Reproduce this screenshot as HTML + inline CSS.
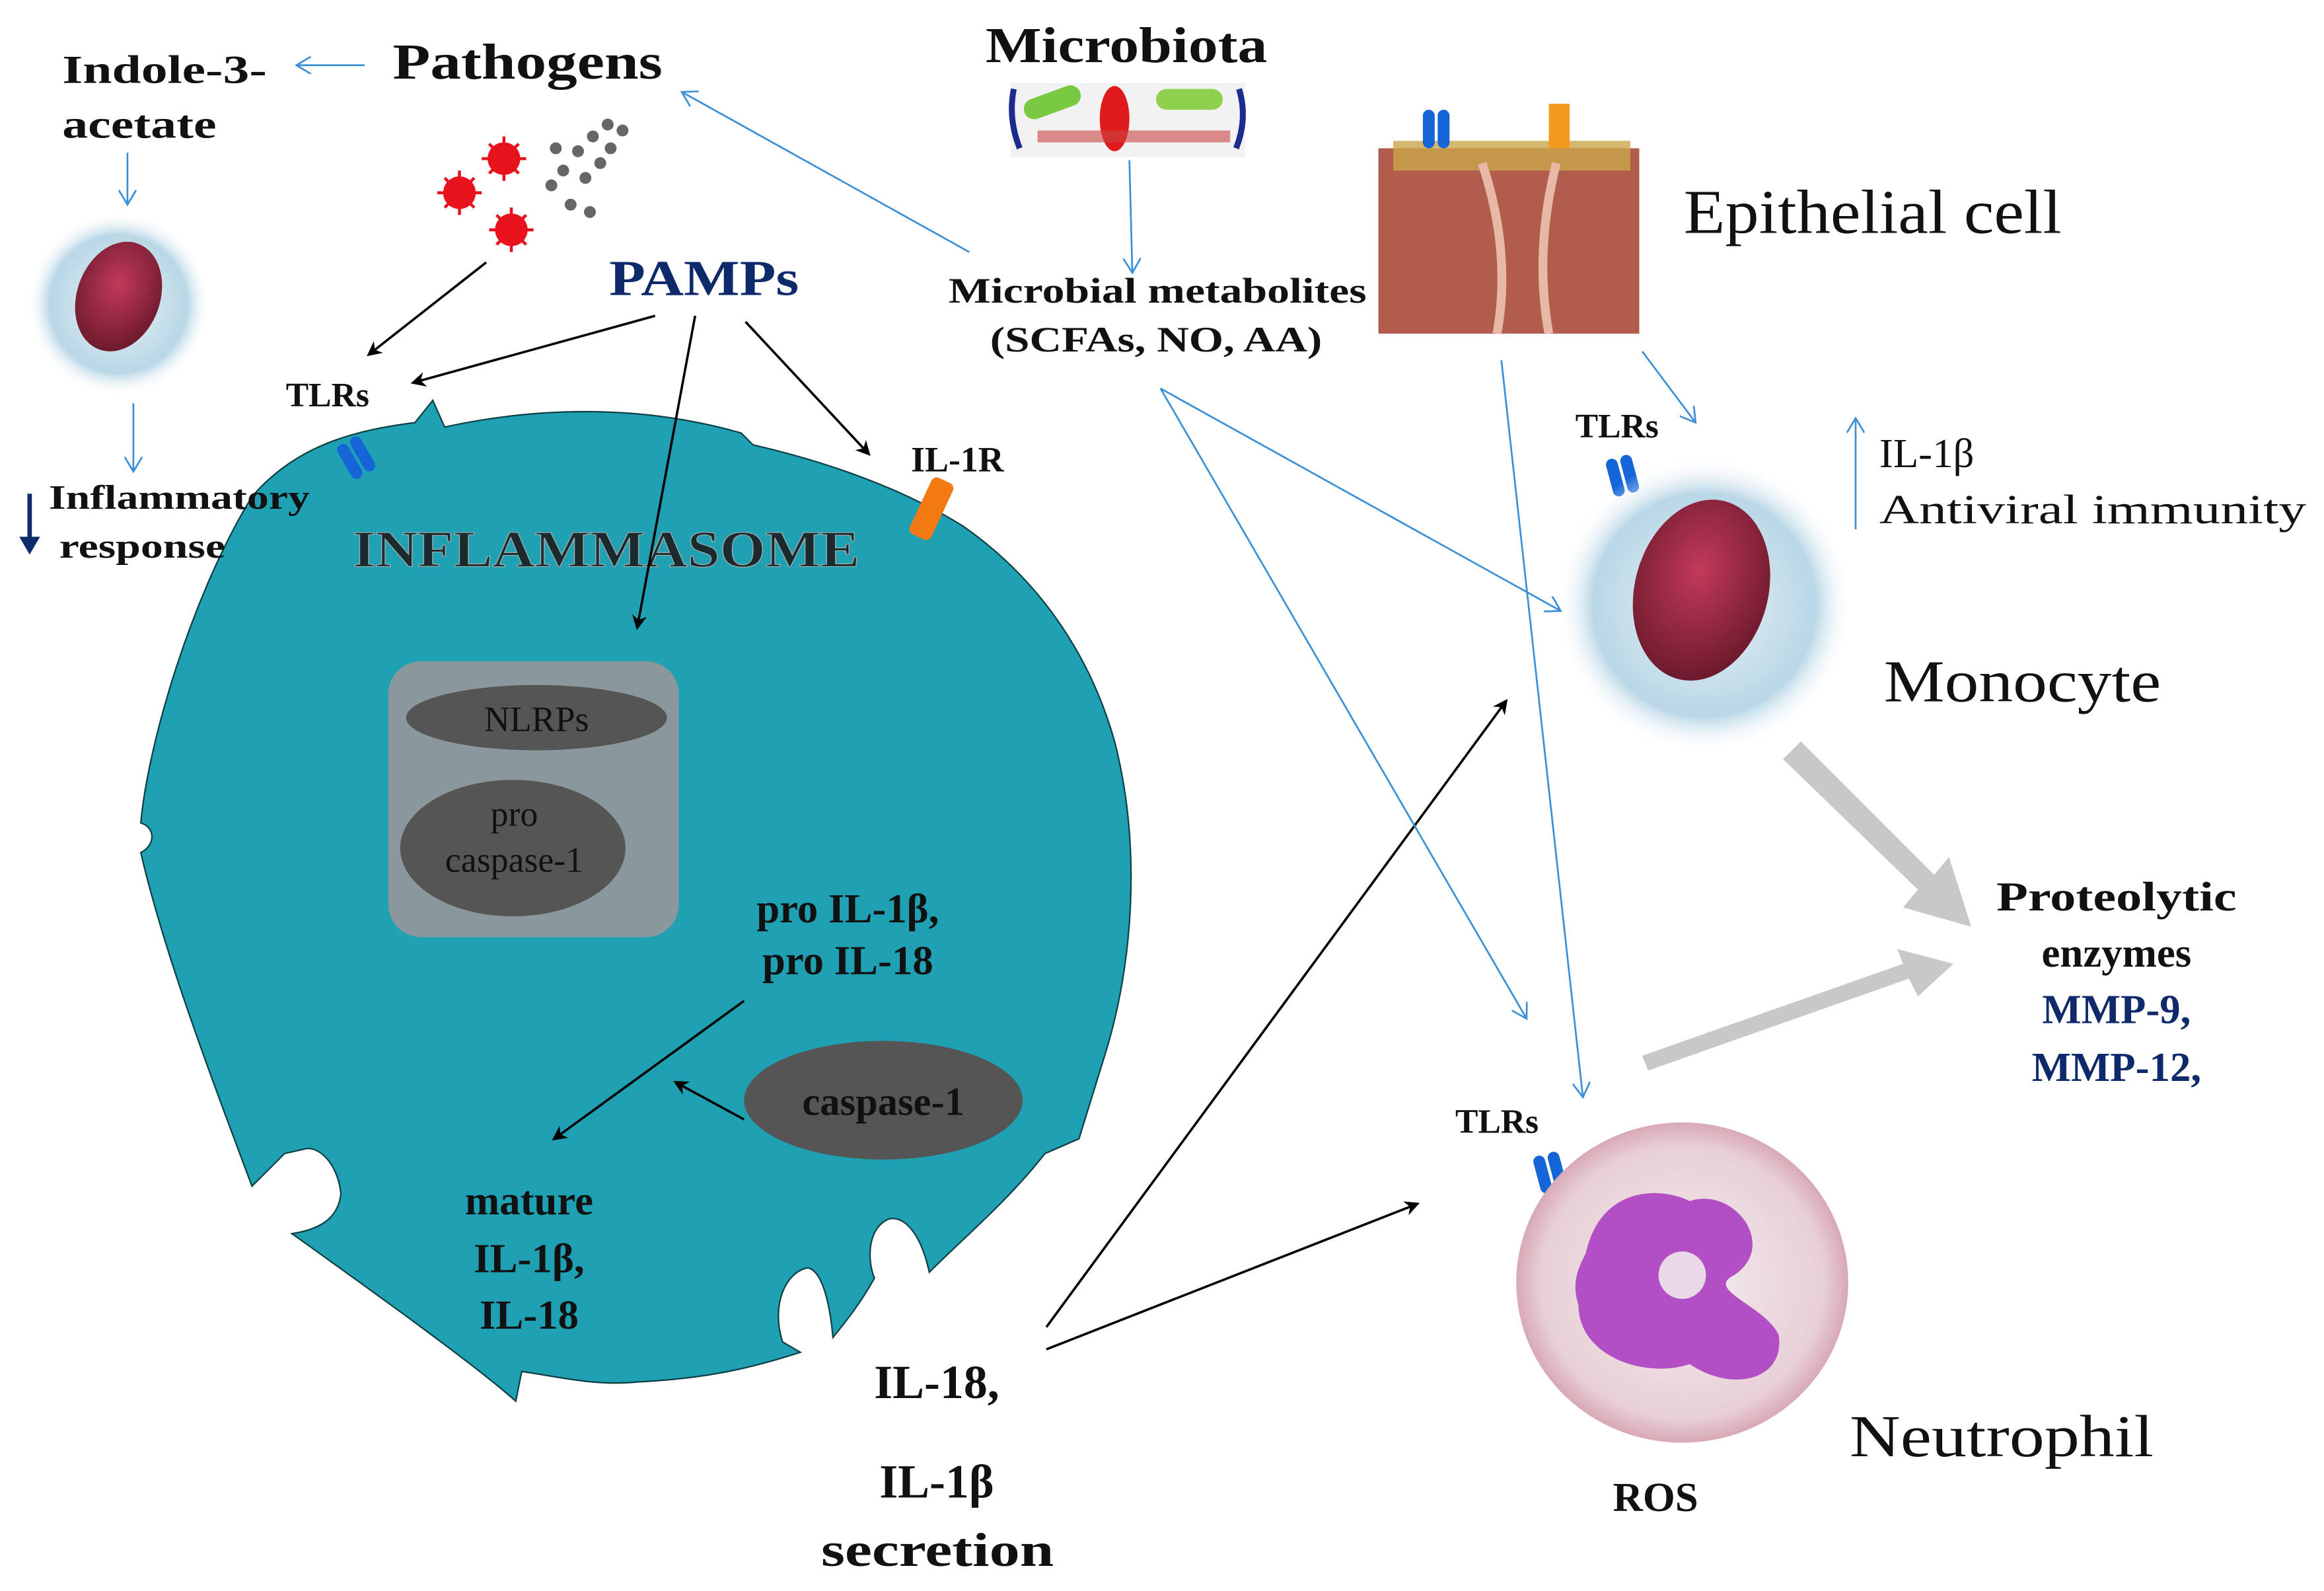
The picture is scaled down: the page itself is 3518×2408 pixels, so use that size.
<!DOCTYPE html>
<html><head><meta charset="utf-8">
<style>
html,body{margin:0;padding:0;background:#fff;}
svg{display:block;}
text{font-family:"Liberation Serif",serif;}
</style></head>
<body>
<svg width="3518" height="2408" viewBox="0 0 1568 1073" preserveAspectRatio="none" xmlns="http://www.w3.org/2000/svg">
<defs>
<marker id="ab" markerWidth="10" markerHeight="10" refX="8" refY="5" orient="auto" markerUnits="userSpaceOnUse"><path d="M0,0 L10,5 L0,10 L3,5 Z" fill="#000"/></marker>
<marker id="abl" markerWidth="12" markerHeight="12" refX="10" refY="6" orient="auto" markerUnits="userSpaceOnUse"><path d="M0,0 L10,6 L0,12" fill="none" stroke="#3b8fd6" stroke-width="1.2"/></marker>
<radialGradient id="mono" cx="50%" cy="50%" r="50%"><stop offset="0" stop-color="#e8f2f7"/><stop offset="0.75" stop-color="#b9d7e6"/><stop offset="1" stop-color="#fff" stop-opacity="0"/></radialGradient>
<radialGradient id="nuc" cx="45%" cy="40%" r="60%"><stop offset="0" stop-color="#c23a5a"/><stop offset="1" stop-color="#6e1a2e"/></radialGradient>
<radialGradient id="neu" cx="50%" cy="50%" r="50%"><stop offset="0" stop-color="#f4eef0"/><stop offset="0.85" stop-color="#e8cfd6"/><stop offset="1" stop-color="#d8a9b5"/></radialGradient>
</defs>

<!-- big cell -->
<path d="M170,335 C200,300 240,290 280,285 L292,270 L300,288 C360,275 430,272 500,292 L508,300 C560,312 610,330 650,355 C700,390 735,440 752,500 C770,570 765,650 745,713 L728,768 L705,778 C680,810 650,835 627,858 C622,835 612,820 600,822 C585,828 585,850 590,862 C580,880 570,892 562,902 C560,880 555,857 545,855 C530,858 520,880 528,905 L540,912 C500,925 470,930 430,932 C400,935 375,928 352,925 L348,945 C320,920 250,870 197,832 C210,830 228,825 230,805 C228,785 215,772 205,775 L192,778 L170,800 C140,720 110,640 95,575 C105,570 105,558 95,555 C100,500 130,400 170,335 Z" fill="#1fa1b3" stroke="#0d3f45" stroke-width="1"/>

<!-- inflammasome box -->
<rect x="262" y="446" width="196" height="186" rx="22" fill="#8a989d"/>
<ellipse cx="362" cy="484" rx="88" ry="22" fill="#555"/>
<ellipse cx="346" cy="572" rx="76" ry="46" fill="#555"/>
<ellipse cx="596" cy="742" rx="94" ry="40" fill="#555"/>
<text x="362" y="493" font-size="24" text-anchor="middle" fill="#111">NLRPs</text>
<text x="347" y="557" font-size="24" text-anchor="middle" fill="#111">pro</text>
<text x="347" y="588" font-size="24" text-anchor="middle" fill="#111">caspase-1</text>
<text x="596" y="752" font-size="27" text-anchor="middle" font-weight="bold" fill="#111">caspase-1</text>

<text x="238" y="382" font-size="35" textLength="342" lengthAdjust="spacingAndGlyphs" font-weight="bold" fill="#1a2a2e" stroke="#9aa" stroke-width="0.6">INFLAMMASOME</text>
<text x="572" y="622" font-size="28" text-anchor="middle" font-weight="bold" fill="#111">pro IL-1β,</text>
<text x="572" y="657" font-size="28" text-anchor="middle" font-weight="bold" fill="#111">pro IL-18</text>
<text x="357" y="819" font-size="28" text-anchor="middle" font-weight="bold" fill="#111">mature</text>
<text x="357" y="858" font-size="28" text-anchor="middle" font-weight="bold" fill="#111">IL-1β,</text>
<text x="357" y="896" font-size="28" text-anchor="middle" font-weight="bold" fill="#111">IL-18</text>

<!-- receptors -->
<g transform="translate(240,310) rotate(-30)"><rect x="-8" y="-14" width="8" height="26" rx="4" fill="#1565d8"/><rect x="2" y="-14" width="8" height="26" rx="4" fill="#1565d8"/></g>
<g transform="translate(628,344) rotate(25)"><rect x="-8" y="-22" width="16" height="42" rx="4" fill="#f37a12"/></g>
<g transform="translate(1094,322) rotate(-15)"><rect x="-8" y="-14" width="8" height="26" rx="4" fill="#1565d8"/><rect x="2" y="-14" width="8" height="26" rx="4" fill="#1565d8"/></g>
<g transform="translate(1045,792) rotate(-15)"><rect x="-8" y="-14" width="8" height="26" rx="4" fill="#1565d8"/><rect x="2" y="-14" width="8" height="26" rx="4" fill="#1565d8"/></g>

<!-- texts top -->
<text x="265" y="53" font-size="34" textLength="182" lengthAdjust="spacingAndGlyphs" font-weight="bold" fill="#111">Pathogens</text>
<text x="42" y="56" font-size="27" textLength="138" lengthAdjust="spacingAndGlyphs" font-weight="bold" fill="#111">Indole-3-</text>
<text x="42" y="93" font-size="27" textLength="104" lengthAdjust="spacingAndGlyphs" font-weight="bold" fill="#111">acetate</text>
<text x="665" y="42" font-size="34" textLength="190" lengthAdjust="spacingAndGlyphs" font-weight="bold" fill="#111">Microbiota</text>
<text x="411" y="199" font-size="34" textLength="128" lengthAdjust="spacingAndGlyphs" font-weight="bold" fill="#0e2a6b">PAMPs</text>
<text x="640" y="204" font-size="24" textLength="282" lengthAdjust="spacingAndGlyphs" font-weight="bold" fill="#111">Microbial metabolites</text>
<text x="668" y="237" font-size="24" textLength="224" lengthAdjust="spacingAndGlyphs" font-weight="bold" fill="#111">(SCFAs, NO, AA)</text>
<text x="221" y="274" font-size="23" text-anchor="middle" font-weight="bold" fill="#111">TLRs</text>
<text x="646" y="318" font-size="24" text-anchor="middle" font-weight="bold" fill="#111">IL-1R</text>
<text x="33" y="343" font-size="23" textLength="176" lengthAdjust="spacingAndGlyphs" font-weight="bold" fill="#111">Inflammatory</text>
<text x="40" y="376" font-size="23" textLength="112" lengthAdjust="spacingAndGlyphs" font-weight="bold" fill="#111">response</text>
<text x="1136" y="157" font-size="42" textLength="255" lengthAdjust="spacingAndGlyphs" fill="#111">Epithelial cell</text>
<text x="1091" y="295" font-size="23" text-anchor="middle" font-weight="bold" fill="#111">TLRs</text>
<text x="1268" y="315" font-size="28" fill="#111">IL-1β</text>
<text x="1268" y="353" font-size="28" textLength="288" lengthAdjust="spacingAndGlyphs" fill="#111">Antiviral immunity</text>
<text x="1271" y="473" font-size="40" textLength="187" lengthAdjust="spacingAndGlyphs" fill="#111">Monocyte</text>
<text x="1347" y="614" font-size="28" textLength="162" lengthAdjust="spacingAndGlyphs" font-weight="bold" fill="#111">Proteolytic</text>
<text x="1428" y="652" font-size="28" text-anchor="middle" font-weight="bold" fill="#111">enzymes</text>
<text x="1428" y="690" font-size="28" text-anchor="middle" font-weight="bold" fill="#0e2a6b">MMP-9,</text>
<text x="1428" y="729" font-size="28" text-anchor="middle" font-weight="bold" fill="#0e2a6b">MMP-12,</text>
<text x="1010" y="764" font-size="23" text-anchor="middle" font-weight="bold" fill="#111">TLRs</text>
<text x="1248" y="982" font-size="40" textLength="205" lengthAdjust="spacingAndGlyphs" fill="#111">Neutrophil</text>
<text x="1117" y="1019" font-size="28" text-anchor="middle" font-weight="bold" fill="#111">ROS</text>
<text x="632" y="943" font-size="32" text-anchor="middle" font-weight="bold" fill="#111">IL-18,</text>
<text x="632" y="1010" font-size="32" text-anchor="middle" font-weight="bold" fill="#111">IL-1β</text>
<text x="554" y="1056" font-size="32" textLength="157" lengthAdjust="spacingAndGlyphs" font-weight="bold" fill="#111">secretion</text>

<!-- pathogen icons -->
<g fill="#e8121c">
<circle cx="340" cy="107" r="11"/><circle cx="310" cy="130" r="11"/><circle cx="345" cy="155" r="11"/>
</g>
<g stroke="#e8121c" stroke-width="2">
<path d="M340,92 V122 M325,107 H355 M330,97 L350,117 M350,97 L330,117"/>
<path d="M310,115 V145 M295,130 H325 M300,120 L320,140 M320,120 L300,140"/>
<path d="M345,140 V170 M330,155 H360 M335,145 L355,165 M355,145 L335,165"/>
</g>
<g fill="#666"><circle cx="372" cy="125" r="4"/><circle cx="380" cy="115" r="4"/><circle cx="390" cy="102" r="4"/><circle cx="400" cy="92" r="4"/><circle cx="410" cy="84" r="4"/><circle cx="420" cy="88" r="4"/><circle cx="395" cy="120" r="4"/><circle cx="405" cy="110" r="4"/><circle cx="385" cy="138" r="4"/><circle cx="398" cy="143" r="4"/><circle cx="412" cy="100" r="4"/><circle cx="375" cy="100" r="4"/></g>

<!-- microbiota image -->
<rect x="682" y="56" width="158" height="50" fill="#f2f2f2"/>
<rect x="690" y="62" width="40" height="14" rx="7" fill="#7ac943" transform="rotate(-20 710 69)"/>
<rect x="780" y="60" width="45" height="14" rx="7" fill="#8fd14f"/>
<ellipse cx="752" cy="80" rx="10" ry="22" fill="#e01b1b"/>
<rect x="700" y="88" width="130" height="8" fill="#c44" opacity="0.6"/>
<path d="M684,60 Q680,80 688,100" stroke="#1b2c8c" stroke-width="4" fill="none"/>
<path d="M836,60 Q842,80 834,100" stroke="#1b2c8c" stroke-width="4" fill="none"/>

<!-- epithelial image -->
<rect x="930" y="100" width="176" height="125" fill="#b25d4c"/>
<rect x="940" y="95" width="160" height="20" fill="#c9a64a" opacity="0.8"/>
<path d="M1000,110 Q1020,170 1010,225 M1050,110 Q1035,170 1045,225" stroke="#e6b8a5" stroke-width="6" fill="none"/>
<rect x="1045" y="70" width="14" height="30" fill="#f39a1c"/>
<g transform="translate(968,88)"><rect x="-8" y="-14" width="8" height="26" rx="4" fill="#1565d8"/><rect x="2" y="-14" width="8" height="26" rx="4" fill="#1565d8"/></g>

<!-- small monocyte -->
<circle cx="80" cy="205" r="62" fill="url(#mono)"/>
<ellipse cx="80" cy="200" rx="28" ry="38" fill="url(#nuc)" transform="rotate(20 80 200)"/>
<!-- monocyte -->
<circle cx="1150" cy="408" r="100" fill="url(#mono)"/>
<ellipse cx="1148" cy="398" rx="45" ry="62" fill="url(#nuc)" transform="rotate(15 1148 398)"/>
<!-- neutrophil -->
<ellipse cx="1135" cy="865" rx="112" ry="108" fill="url(#neu)"/>
<path d="M1070,845 C1080,800 1120,800 1140,810 C1170,800 1200,840 1170,860 C1150,870 1190,880 1200,900 C1205,930 1170,940 1140,920 C1110,930 1065,915 1065,880 C1060,865 1065,855 1070,845 Z" fill="#b34fc4"/>
<circle cx="1135" cy="860" r="16" fill="#e9d8e6"/>

<!-- black arrows -->
<g stroke="#000" stroke-width="1.6" fill="none" marker-end="url(#ab)">
<line x1="328" y1="177" x2="249" y2="239"/>
<line x1="442" y1="213" x2="279" y2="258"/>
<line x1="469" y1="213" x2="430" y2="423"/>
<line x1="503" y1="217" x2="586" y2="306"/>
<line x1="502" y1="675" x2="374" y2="768"/>
<line x1="502" y1="755" x2="456" y2="730"/>
<line x1="706" y1="895" x2="1016" y2="473"/>
<line x1="706" y1="910" x2="956" y2="812"/>
</g>

<!-- blue arrows -->
<g stroke="#3b8fd6" stroke-width="1.2" fill="none" marker-end="url(#abl)">
<line x1="246" y1="44" x2="200" y2="44"/>
<line x1="86" y1="103" x2="86" y2="138"/>
<line x1="90" y1="272" x2="90" y2="318"/>
<line x1="654" y1="170" x2="460" y2="62"/>
<line x1="762" y1="108" x2="764" y2="184"/>
<line x1="783" y1="262" x2="1053" y2="412"/>
<line x1="783" y1="262" x2="1030" y2="687"/>
<line x1="1013" y1="243" x2="1068" y2="740"/>
<line x1="1108" y1="237" x2="1144" y2="285"/>
<line x1="1252" y1="357" x2="1252" y2="282"/>
</g>
<!-- dark down arrow -->
<line x1="20" y1="333" x2="20" y2="370" stroke="#0e2a6b" stroke-width="3"/>
<path d="M13,362 L20,374 L27,362 Z" fill="#0e2a6b"/>

<!-- grey big arrows -->
<g fill="#c8c8c8">
<path d="M1203,512 L1215,500 L1305,590 L1315,578 L1330,625 L1284,612 L1294,600 Z"/>
<path d="M1108,712 L1112,722 L1288,660 L1294,672 L1318,650 L1280,640 L1284,650 Z"/>
</g>
</svg>
</body></html>
